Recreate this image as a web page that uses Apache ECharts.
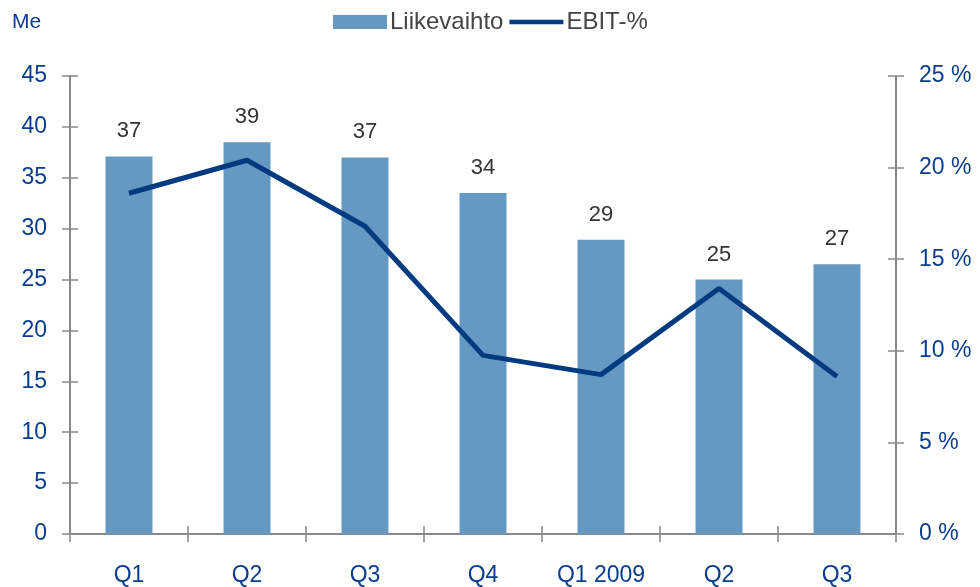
<!DOCTYPE html>
<html>
<head>
<meta charset="utf-8">
<script src="https://cdn.jsdelivr.net/npm/echarts@6/dist/echarts.min.js"></script>
<style>
  html, body { margin: 0; padding: 0; background: #fff; }
  #chart { width: 980px; height: 587px; }
</style>
</head>
<body>
<div id="chart"></div>
<script>
  const categories = ['Q1', 'Q2', 'Q3', 'Q4', 'Q1 2009', 'Q2', 'Q3'];
  const liikevaihto = [37.1, 38.5, 37.0, 33.5, 28.9, 25.0, 26.5];
  const ebit = [18.6, 20.4, 16.8, 9.75, 8.7, 13.4, 8.6];

  const axisColor = '#0a3d8c';
  const gray = '#888';
  const font = 'Liberation Sans, Arial, sans-serif';

  const myChart = echarts.init(document.getElementById('chart'));

  // duplicate axes only draw the inner half of the crossing ticks
  const innerTicks = { show: true, inside: true, length: 8, lineStyle: { color: gray, width: 1.5 } };
  const outerTicks = { show: true, length: 8, lineStyle: { color: gray, width: 1.5 } };

  const option = {
    animation: false,
    textStyle: { fontFamily: font },
    legend: {
      top: 5,
      left: 328,
      itemGap: 6,
      itemWidth: 54,
      itemHeight: 14,
      textStyle: { fontSize: 24, color: '#444', fontFamily: font, padding: [0, 0, 0, -2] },
      data: [
        { name: 'Liikevaihto', icon: 'rect' },
        { name: 'EBIT-%', icon: 'path://M0,0 L60,0 L60,5 L0,5 Z' }
      ]
    },
    graphic: [{
      type: 'text', left: 12, top: 12,
      style: { text: 'Me', fontSize: 21, fill: axisColor, fontFamily: font }
    }],
    grid: { left: 70, right: 84, top: 76, bottom: 52 },
    xAxis: [
      {
        type: 'category',
        data: categories,
        axisLine: { lineStyle: { color: gray, width: 2 } },
        axisTick: outerTicks,
        axisLabel: { color: axisColor, fontSize: 23, margin: 30 }
      },
      {
        type: 'category',
        data: categories,
        position: 'bottom',
        axisLine: { show: false },
        axisTick: innerTicks,
        axisLabel: { show: false }
      }
    ],
    yAxis: [
      {
        type: 'value', min: 0, max: 45, interval: 5,
        splitLine: { show: false },
        axisLine: { show: true, lineStyle: { color: gray, width: 2 } },
        axisTick: outerTicks,
        axisLabel: { color: axisColor, fontSize: 23, margin: 23 }
      },
      {
        type: 'value', min: 0, max: 25, interval: 5,
        splitLine: { show: false },
        axisLine: { show: true, lineStyle: { color: gray, width: 2 } },
        axisTick: outerTicks,
        axisLabel: { color: axisColor, fontSize: 23, margin: 23, formatter: '{value} %' }
      },
      {
        type: 'value', min: 0, max: 45, interval: 5, position: 'left',
        splitLine: { show: false }, axisLine: { show: false },
        axisTick: innerTicks, axisLabel: { show: false }
      },
      {
        type: 'value', min: 0, max: 25, interval: 5, position: 'right',
        splitLine: { show: false }, axisLine: { show: false },
        axisTick: innerTicks, axisLabel: { show: false }
      }
    ],
    series: [
      {
        name: 'Liikevaihto',
        type: 'bar',
        barWidth: 47,
        itemStyle: { color: '#6699c2' },
        label: {
          show: true, position: 'top', distance: 14,
          color: '#333', fontSize: 22,
          formatter: p => Math.round(p.value)
        },
        data: liikevaihto
      },
      {
        name: 'EBIT-%',
        type: 'line',
        yAxisIndex: 1,
        symbol: 'none',
        lineStyle: { color: '#003a80', width: 5 },
        itemStyle: { color: '#003a80' },
        data: ebit
      }
    ]
  };
  myChart.setOption(option);
</script>
</body>
</html>
